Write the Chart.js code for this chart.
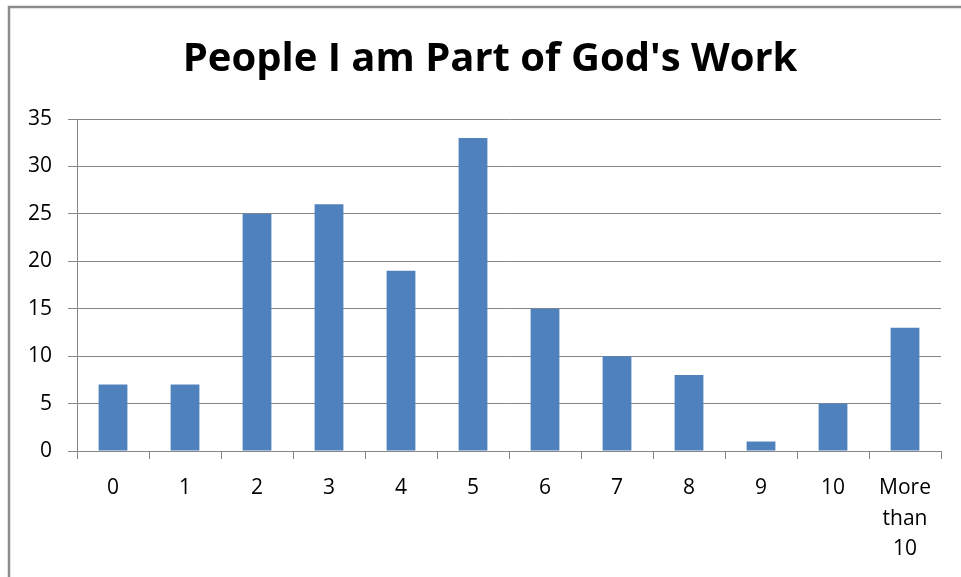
<!DOCTYPE html>
<html>
<head>
<meta charset="utf-8">
<script src="https://cdn.jsdelivr.net/npm/chart.js@4"></script>
<style>
  html, body { margin: 0; padding: 0; background: #fff; }
  #wrap { width: 961px; height: 577px; position: relative; }
</style>
</head>
<body>
<div id="wrap"><canvas id="chart" width="961" height="577"></canvas></div>
<script>
// data
const categories = ['0', '1', '2', '3', '4', '5', '6', '7', '8', '9', '10', ['More', 'than', '10']];
const counts = [7, 7, 25, 26, 19, 33, 15, 10, 8, 1, 5, 13];
const yTicks = [0, 5, 10, 15, 20, 25, 30, 35];

const titleText = "People I am Part of God's Work";
const fontFamily = '"Open Sans", Lato, sans-serif';
const gridGray = '#868686';

// white background, grey frame of the chart box (left and top edges) and the title,
// which sits a little right of the canvas centre in the original
const framePlugin = {
    id: 'frame',
    beforeDraw(chart) {
        const ctx = chart.ctx;
        ctx.save();
        ctx.fillStyle = '#fff';
        ctx.fillRect(0, 0, chart.width, chart.height);
        ctx.strokeStyle = '#8c8c8c';
        ctx.lineWidth = 2.5;
        ctx.beginPath();
        ctx.moveTo(9, chart.height);
        ctx.lineTo(9, 7);
        ctx.lineTo(chart.width, 7);
        ctx.stroke();

        ctx.fillStyle = '#000';
        ctx.font = 'bold 40px ' + fontFamily;
        ctx.textAlign = 'center';
        ctx.textBaseline = 'middle';
        ctx.fillText(titleText, 490, 60);
        ctx.restore();
    }
};

const ctx = document.getElementById('chart').getContext('2d');
new Chart(ctx, {
    type: 'bar',
    data: {
        labels: categories,
        datasets: [{
            data: counts,
            backgroundColor: '#4F81BD',
            borderWidth: 0,
            barPercentage: 0.4,
            categoryPercentage: 1.0
        }]
    },
    options: {
        responsive: false,
        animation: false,
        layout: { padding: { left: 0, right: 20, top: 119, bottom: 0 } },
        plugins: {
            legend: { display: false },
            tooltip: { enabled: false },
            title: { display: false }
        },
        scales: {
            x: {
                grid: {
                    offset: true,
                    drawOnChartArea: false,
                    drawTicks: true,
                    tickLength: 8,
                    color: gridGray
                },
                border: { display: true, color: gridGray },
                ticks: {
                    color: '#000',
                    font: { family: fontFamily, size: 21, lineHeight: 1.45 },
                    padding: 14,
                    maxRotation: 0,
                    autoSkip: false
                },
                afterFit(scale) { scale.height = 126; }
            },
            y: {
                min: 0,
                max: 35,
                afterBuildTicks(scale) { scale.ticks = yTicks.map(v => ({ value: v })); },
                grid: {
                    color: gridGray,
                    drawTicks: true,
                    tickLength: 9
                },
                border: { display: true, color: gridGray },
                ticks: {
                    color: '#000',
                    font: { family: fontFamily, size: 21 },
                    padding: 16
                },
                afterFit(scale) { scale.width = 77; }
            }
        }
    },
    plugins: [framePlugin]
});
</script>
</body>
</html>
